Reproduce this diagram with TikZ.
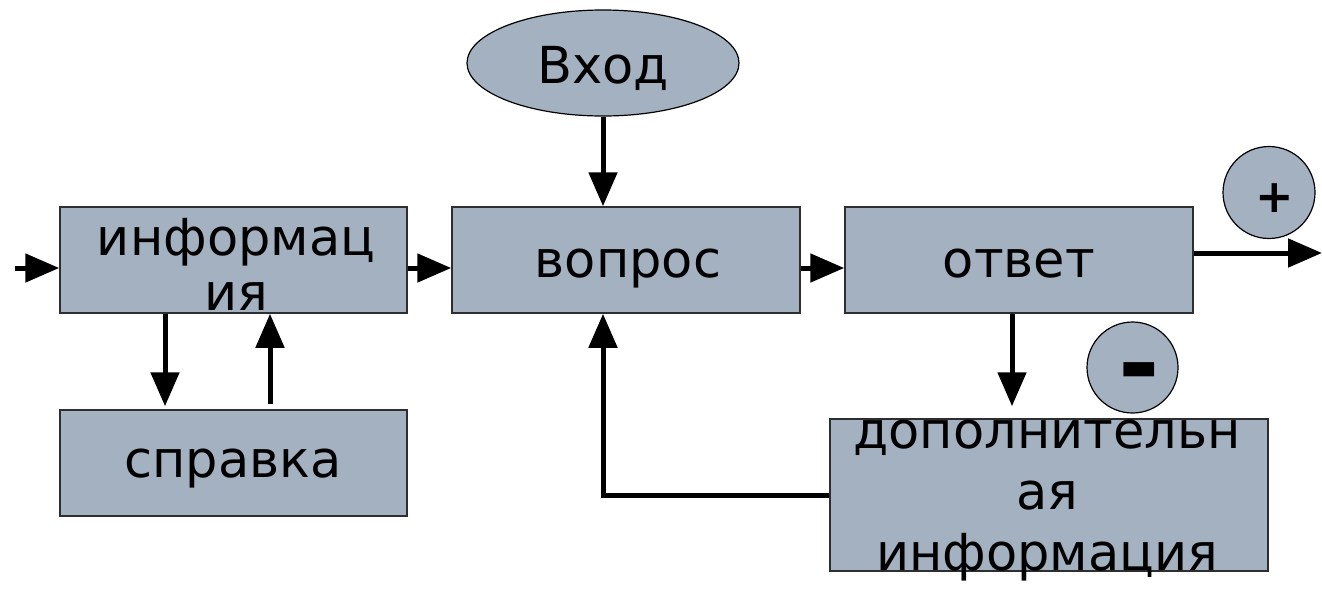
\documentclass[tikz,border=0pt]{standalone}
\usepackage{fontspec}
\setmainfont{DejaVu Sans}
\usetikzlibrary{arrows.meta,shapes.geometric}
\definecolor{boxfill}{HTML}{A3B1C0}
\definecolor{boxline}{HTML}{2E2E2E}
\begin{document}
\begin{tikzpicture}[x=1pt,y=-1pt,
  box/.style={draw=boxline, line width=1.5pt, fill=boxfill, inner sep=0pt},
  roundbox/.style={draw=black, line width=1.2pt, fill=boxfill, inner sep=0pt},
  txt/.style={font=\fontsize{51}{55}\selectfont, inner sep=0pt, align=center, anchor=base},
  sign/.style={font=\bfseries\fontsize{46}{50}\selectfont, inner sep=0pt},
  conn/.style={line width=5pt, -{Triangle[length=34pt,width=28pt]}},
]
\useasboundingbox (0,0) rectangle (1322,590);

% boxes
\node[box, minimum width=347pt, minimum height=106pt] (info) at (233.5,260) {};
\node[box, minimum width=348pt, minimum height=106pt] (vopros) at (626,260) {};
\node[box, minimum width=348pt, minimum height=106pt] (otvet) at (1019,260) {};
\node[box, minimum width=347pt, minimum height=106pt] (spravka) at (233.5,463) {};
\node[box, minimum width=438pt, minimum height=152pt] (dop) at (1049,495) {};
\node[roundbox, ellipse, minimum width=272pt, minimum height=106pt] (vhod) at (603,63) {};
\node[roundbox, circle, minimum size=92pt] (plus) at (1269,192.5) {};
\node[roundbox, circle, minimum size=91pt] (minus) at (1132.5,367.5) {};

% texts (base anchor = baseline of the last line)
\node[txt] (infotxt) at (236,310) {информац\\ия};
\node[txt] (voprostxt) at (628,277) {вопрос};
\node[txt] (otvettxt) at (1019,277) {ответ};
\node[txt] (spravkatxt) at (233,477) {справка};
\node[txt, font=\fontsize{51}{61}\selectfont] (doptxt) at (1047,570) {дополнительн\\ая\\информация};
\node[txt] (vhodtxt) at (603,83) {Вход};
\node[sign] (plustxt) at (1275,198) {+};
\node[sign, font=\bfseries\fontsize{100}{100}\selectfont] (minustxt) at (1139,381) {-};

% connectors
\coordinate (inL) at (15,268);
\coordinate (outR) at (1322,253);
\draw[conn] (inL) -- (inL -| info.west);
\draw[conn] ([yshift=-8pt]info.east) -- ([yshift=-8pt]vopros.west);
\draw[conn] ([yshift=-8pt]vopros.east) -- ([yshift=-8pt]otvet.west);
\draw[conn] ([yshift=7pt]otvet.east) -- (outR);
\draw[conn] (vhod.south) -- (vhod.south |- vopros.north);
\draw[conn, shorten >=3pt] ([xshift=-68.5pt]info.south) -- ([xshift=-68.5pt]spravka.north);
\draw[conn, shorten <=5pt] ([xshift=36.5pt]spravka.north) -- ([xshift=36.5pt]info.south);
\draw[conn, shorten >=12pt] ([xshift=-7pt]otvet.south) -- ([xshift=-7pt]otvet.south |- dop.north);
\draw[conn] (dop.west) -| (vhod.south |- vopros.south);
\end{tikzpicture}
\end{document}
